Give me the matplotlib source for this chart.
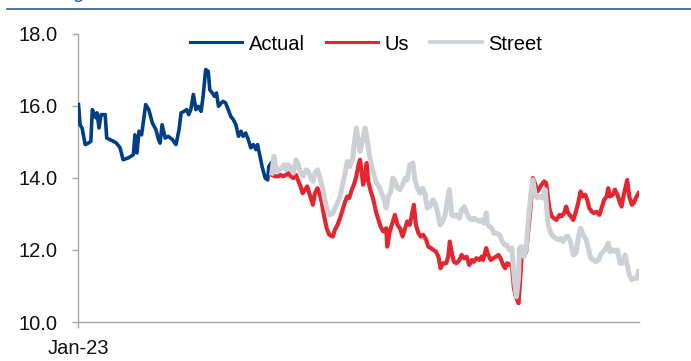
import matplotlib
matplotlib.use("Agg")
import matplotlib.pyplot as plt
from matplotlib.lines import Line2D

plt.rcParams['font.family'] = ['Liberation Sans', 'DejaVu Sans']

# ---- data (x = days since 1 Jan 2023) ----
actual_days = [1, 4, 8, 14, 20, 25, 28, 32, 35, 37, 41, 45, 53, 56, 62, 69, 75, 82, 88, 98,
               108, 111, 115, 119, 124, 132, 138, 145, 152, 157, 160, 164, 170, 176, 184, 191,
               197, 201, 207, 212, 216, 220, 225, 230, 235, 240, 244, 249, 254, 257, 262, 266,
               270, 274, 279, 283, 288, 293, 298, 303, 308, 313, 318, 322, 327, 332, 337, 342,
               347, 350, 355, 359, 365, 370, 372, 376]
actual_vals = [16.03, 15.47, 15.38, 14.92, 14.96, 15.01, 15.89, 15.75, 15.66, 15.80, 15.38, 15.75,
               15.75, 15.10, 15.06, 15.01, 14.96, 14.83, 14.50, 14.55, 14.64, 15.19, 14.69, 15.29,
               15.19, 16.03, 15.89, 15.52, 15.33, 15.06, 14.96, 15.47, 15.10, 15.15, 15.06, 14.92,
               15.33, 15.80, 15.84, 15.89, 15.75, 15.89, 16.31, 15.89, 15.98, 15.84, 16.26, 17.00,
               16.95, 16.44, 16.35, 16.26, 16.35, 15.98, 16.07, 16.12, 16.07, 15.89, 15.70, 15.61,
               15.47, 15.15, 15.29, 15.15, 15.24, 15.06, 14.83, 14.92, 14.78, 14.92, 14.59, 14.31,
               13.99, 13.94, 14.31, 14.40]

us_days = [378, 384, 391, 395, 400, 406, 410, 415, 420, 425, 430, 434, 438, 443, 447, 452, 458,
           462, 467, 471, 475, 480, 485, 490, 497, 501, 506, 511, 516, 521, 525, 529, 534, 538,
           542, 547, 550, 553, 556, 560, 563, 566, 571, 576, 581, 586, 590, 595, 601, 603, 608,
           614, 618, 623, 628, 633, 638, 642, 647, 651, 655, 659, 664, 668, 673, 679, 683, 688,
           693, 698, 703, 707, 712, 718, 722, 725, 729, 733, 738, 744, 748, 753, 758, 763, 768,
           772, 777, 783, 787, 790, 796, 800, 805, 810, 815, 820, 824, 829, 833, 837, 842, 846,
           850, 854, 859, 862, 865, 870, 874, 878, 883, 887, 891, 896, 900, 904, 909, 913, 915,
           919, 924, 928, 933, 939, 943, 948, 952, 956, 961, 966, 971, 976, 980, 984, 989, 993,
           997, 1002, 1006, 1011, 1017, 1021, 1026, 1031, 1034, 1037, 1043, 1047, 1052, 1056,
           1060, 1063, 1069, 1071, 1075, 1080, 1084, 1088, 1093]
us_vals = [14.08, 14.04, 14.04, 14.08, 14.04, 14.08, 14.13, 14.04, 13.99, 14.08, 13.90, 13.76,
           13.57, 13.67, 13.76, 13.53, 13.25, 13.57, 13.71, 13.57, 13.34, 12.93, 12.60, 12.42,
           12.37, 12.56, 12.69, 12.88, 13.11, 13.34, 13.48, 13.44, 13.67, 13.81, 13.99, 14.36,
           14.50, 14.18, 13.81, 14.08, 14.41, 13.90, 13.62, 13.39, 13.06, 12.83, 12.65, 12.51,
           12.60, 12.09, 12.51, 12.79, 12.97, 12.69, 12.60, 12.37, 12.60, 12.79, 12.69, 12.97,
           13.25, 12.69, 12.46, 12.37, 12.42, 12.28, 12.09, 12.05, 12.00, 11.95, 11.81, 11.49,
           11.63, 11.63, 11.81, 12.23, 11.91, 11.67, 11.63, 11.72, 11.86, 11.77, 11.81, 11.58,
           11.72, 11.67, 11.77, 11.72, 11.81, 11.72, 12.05, 11.86, 11.72, 11.77, 11.81, 11.86,
           11.77, 11.58, 11.49, 11.63, 11.58, 11.63, 10.94, 10.70, 10.52, 11.12, 11.77, 11.86,
           11.95, 12.51, 13.25, 13.99, 13.85, 13.62, 13.71, 13.81, 13.90, 13.85, 13.62, 13.16,
           12.93, 12.88, 12.83, 12.97, 12.93, 13.02, 13.20, 13.02, 12.93, 12.83, 13.06, 13.34,
           13.62, 13.48, 13.53, 13.39, 13.16, 13.06, 13.02, 13.06, 12.97, 13.16, 13.39, 13.48,
           13.71, 13.48, 13.53, 13.67, 13.53, 13.34, 13.20, 13.44, 13.81, 13.94, 13.48, 13.25,
           13.30, 13.44, 13.57]

street_days = [378, 382, 387, 393, 397, 402, 406, 410, 415, 420, 425, 430, 434, 439, 445, 449,
               454, 458, 462, 467, 472, 477, 482, 486, 491, 497, 501, 506, 511, 516, 521, 525,
               530, 536, 538, 543, 547, 550, 555, 560, 564, 568, 573, 577, 582, 587, 592, 597,
               601, 605, 610, 614, 618, 623, 628, 633, 638, 642, 647, 653, 657, 662, 667, 672,
               677, 681, 686, 692, 696, 701, 706, 711, 716, 720, 724, 729, 733, 738, 744, 748,
               753, 758, 763, 768, 772, 777, 783, 787, 792, 796, 798, 802, 807, 811, 816, 822,
               826, 831, 836, 841, 846, 849, 852, 855, 859, 861, 865, 870, 874, 878, 883, 887,
               891, 896, 901, 906, 911, 914, 917, 922, 927, 932, 937, 941, 946, 952, 956, 961,
               966, 971, 976, 980, 985, 991, 995, 1000, 1005, 1010, 1015, 1019, 1024, 1030, 1034,
               1037, 1043, 1047, 1052, 1057, 1062, 1067, 1070, 1075, 1080, 1084, 1090, 1093]
street_vals = [14.13, 14.59, 14.18, 14.22, 14.27, 14.36, 14.22, 14.36, 14.27, 14.13, 14.50, 14.36,
               14.13, 14.04, 14.22, 14.18, 13.99, 13.90, 14.13, 14.22, 13.99, 13.71, 13.34, 13.11,
               12.97, 13.02, 13.16, 13.30, 13.48, 13.81, 14.13, 14.45, 14.31, 14.55, 14.87, 15.38,
               14.92, 14.73, 15.06, 15.38, 15.06, 14.64, 14.31, 14.08, 13.85, 13.76, 13.57, 13.39,
               13.16, 13.48, 13.62, 13.99, 13.90, 13.71, 13.67, 13.81, 13.99, 13.94, 14.36, 14.41,
               13.94, 13.71, 13.57, 13.71, 13.53, 13.16, 13.20, 13.39, 13.30, 13.06, 12.69, 12.79,
               12.97, 13.34, 13.67, 12.97, 12.93, 12.97, 12.88, 13.11, 13.20, 13.02, 12.88, 12.83,
               12.88, 12.83, 12.79, 12.83, 12.74, 13.02, 12.74, 12.65, 12.60, 12.46, 12.46, 12.42,
               12.28, 12.14, 12.14, 12.00, 12.05, 11.49, 11.03, 10.70, 11.21, 12.05, 12.09, 11.81,
               12.05, 12.79, 13.53, 13.94, 13.57, 13.44, 13.48, 13.44, 13.67, 13.16, 12.69, 12.46,
               12.37, 12.32, 12.28, 12.32, 12.23, 12.37, 12.37, 12.19, 11.86, 11.91, 12.37, 12.60,
               12.42, 12.28, 12.05, 11.77, 11.72, 11.67, 11.72, 11.86, 11.95, 12.05, 12.19, 11.95,
               12.00, 11.95, 12.00, 11.63, 11.63, 11.86, 11.67, 11.31, 11.17, 11.21, 11.21, 11.40]

series_names = ["Actual", "Us", "Street"]
y_ticks = [10.0, 12.0, 14.0, 16.0, 18.0]
x_tick_days = [0]
x_tick_labels = ["Jan-23"]
x_end_day = 1094

BLUE = "#003E85"
RED = "#E32730"
GREY = "#CDD1D6"
AXC = "#A6A6A6"

fig = plt.figure(figsize=(6.91, 3.61), dpi=100)
ax = fig.add_axes([78 / 691, 1 - 322 / 361, (639 - 78) / 691, (322 - 33.5) / 361])

ax.plot(actual_days, actual_vals, color=BLUE, lw=2.6, label=series_names[0],
        solid_joinstyle='round', zorder=3)
ax.plot(us_days, us_vals, color=RED, lw=3.0, label=series_names[1],
        solid_joinstyle='round', zorder=3)
ax.plot(street_days, street_vals, color=GREY, lw=3.6, label=series_names[2],
        solid_joinstyle='round', zorder=4)

ax.set_xlim(0, x_end_day)
ax.set_ylim(10, 18)
ax.set_yticks(y_ticks)
ax.set_yticklabels([f"{v:.1f}" for v in y_ticks])
ax.set_xticks(x_tick_days)
ax.set_xticklabels(x_tick_labels)

for s in ["top", "right"]:
    ax.spines[s].set_visible(False)
for s in ["left", "bottom"]:
    ax.spines[s].set_color(AXC)
    ax.spines[s].set_linewidth(1.0)

ax.tick_params(axis='y', direction='out', length=4.5, width=1.0, color=AXC,
               labelsize=14.5, pad=10, labelcolor='#111111')
ax.tick_params(axis='x', direction='out', length=4, width=1.0, color=AXC,
               labelsize=14.5, pad=8, labelcolor='#111111')

leg = fig.legend(loc='center', bbox_to_anchor=(366 / 691, 1 - 44 / 361), ncol=3,
                 frameon=False, fontsize=14.5, handlelength=2.6, handletextpad=0.3,
                 columnspacing=1.05, borderpad=0)
for h, w in zip(leg.get_lines(), [2.2, 2.2, 2.6]):
    h.set_linewidth(w)

# top rule and cut-off title fragment (as in the reference)
fig.add_artist(Line2D([7 / 691, 1.0], [1 - 9 / 361, 1 - 9 / 361], color="#2E5C9E",
                      lw=1.2, transform=fig.transFigure))
fig.text(72 / 691, 1 + 1.5 / 361, "g", color="#2E5C9E", fontsize=14.5, va='baseline',
         ha='left')

fig.savefig("out.png", dpi=100)
